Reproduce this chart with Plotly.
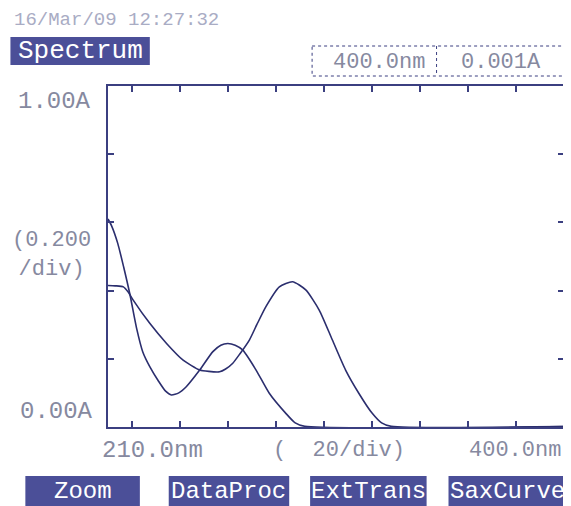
import plotly.graph_objects as go

# ---- data ----
wl_a = [210, 211.5, 214, 216.5, 219.1, 221.9, 224.5, 227.4, 231, 234, 236.4, 239.5, 242.6,
        248.2, 253.7, 257, 259.9, 263, 266.1, 271.7, 277.2, 284.1, 288, 292, 400]
abs_a = [0.61, 0.59, 0.54, 0.47, 0.39, 0.29, 0.22, 0.177, 0.135, 0.105, 0.094, 0.100, 0.118,
         0.167, 0.221, 0.240, 0.245, 0.240, 0.226, 0.167, 0.099, 0.040, 0.012, 0.002, 0.001]

wl_b = [210, 213, 216.4, 218.5, 220.5, 227.4, 234.4, 241.3, 248.2, 252, 256.5, 259, 262, 265,
        268.9, 272, 275.8, 281.4, 286.9, 292.4, 298.0, 303.5, 309.0, 314.5, 320.1, 324, 328, 400]
abs_b = [0.415, 0.414, 0.411, 0.395, 0.372, 0.304, 0.245, 0.196, 0.167, 0.163, 0.162, 0.170,
         0.187, 0.215, 0.255, 0.300, 0.353, 0.411, 0.426, 0.402, 0.343, 0.255, 0.167, 0.099,
         0.040, 0.012, 0.002, 0.001]

x_ticks = [220, 240, 260, 280, 300, 320, 340, 360, 380, 400]
y_ticks = [0.0, 0.2, 0.4, 0.6, 0.8, 1.0]

date_text = "16/Mar/09 12:27:32"
mode_text = "Spectrum"
readout = ["400.0nm", "0.001A"]
y_labels = ["1.00A", "(0.200<br>/div)", "0.00A"]
x_labels = ["210.0nm", "(  20/div)", "400.0nm"]
buttons = ["Zoom", "DataProc", "ExtTrans", "SaxCurve"]

# ---- layout geometry (screen pixels; page body has an 8px margin) ----
OFF = 8
W, H = 571 - OFF, 506 - OFF
L, R, T, B = 108, 566, 86, 427


def px(x):
    return (x - L) / (R - L)


def py(y):
    return (B - y) / (B - T)


NAVY = "#2b2e6e"
FRAME = "#3b3f80"
GREY = "#86899f"
BTN = "#4b4f98"
FONT = "Liberation Mono, DejaVu Sans Mono, monospace"

fig = go.Figure()
for xs, ys in [(wl_a, abs_a), (wl_b, abs_b)]:
    fig.add_trace(go.Scatter(x=xs, y=ys, mode="lines",
                             line=dict(color=NAVY, width=1.6, shape="spline", smoothing=0.6),
                             hoverinfo="skip", showlegend=False))

shapes = []
annotations = []


def text(t, x, y, size, color=GREY, xanchor="center"):
    annotations.append(dict(text=t, x=px(x), y=py(y), xref="paper", yref="paper", xanchor=xanchor,
                            yanchor="middle", showarrow=False, align="center",
                            font=dict(family=FONT, size=size, color=color)))


# date
text(date_text, 12, 20, 19, color="#a9acc4", xanchor="left")
# Spectrum inverse box
shapes.append(dict(type="rect", xref="paper", yref="paper", x0=px(10), x1=px(150), y0=py(37), y1=py(65),
                   fillcolor=BTN, line=dict(width=0)))
text(mode_text, 80, 51, 26, color="white")
# readout box
shapes.append(dict(type="rect", xref="paper", yref="paper", x0=px(313), x1=px(568), y0=py(46), y1=py(76),
                   line=dict(color=FRAME, width=1, dash="dot")))
shapes.append(dict(type="line", xref="paper", yref="paper", x0=px(438), x1=px(438), y0=py(46), y1=py(76),
                   line=dict(color=FRAME, width=1, dash="dot")))
text(readout[0], 380, 62, 22)
text(readout[1], 503, 62, 22)
# y labels
text(y_labels[0], 93, 102, 24, xanchor="right")
text(y_labels[1], 51, 255, 22)
text(y_labels[2], 95, 411, 24, xanchor="right")
# x labels
text(x_labels[0], 153, 450, 24)
text(x_labels[1], 340, 450, 22)
text(x_labels[2], 517, 450, 22)
# buttons
btn_x = [(25, 140), (169, 290), (311, 428), (450, 568)]
for (a, b), t in zip(btn_x, buttons):
    shapes.append(dict(type="rect", xref="paper", yref="paper", x0=px(a), x1=px(b), y0=py(476), y1=py(506),
                       fillcolor=BTN, line=dict(width=0)))
    text(t, (a + b) / 2, 491, 24, color="white")

axis_common = dict(showgrid=False, zeroline=False, showline=True, linecolor=FRAME, linewidth=1.5,
                   mirror="ticks", ticks="inside", ticklen=6, tickcolor=FRAME, tickwidth=1.5,
                   showticklabels=False, fixedrange=True)

fig.update_layout(
    width=W, height=H,
    margin=dict(l=L - OFF, r=571 - R, t=T - OFF, b=506 - B),
    paper_bgcolor="white", plot_bgcolor="white",
    xaxis=dict(range=[210, 400], tickvals=x_ticks, **axis_common),
    yaxis=dict(range=[0, 1.0], tickvals=y_ticks, **axis_common),
    shapes=shapes, annotations=annotations, showlegend=False,
)

fig.write_html("out.html")
